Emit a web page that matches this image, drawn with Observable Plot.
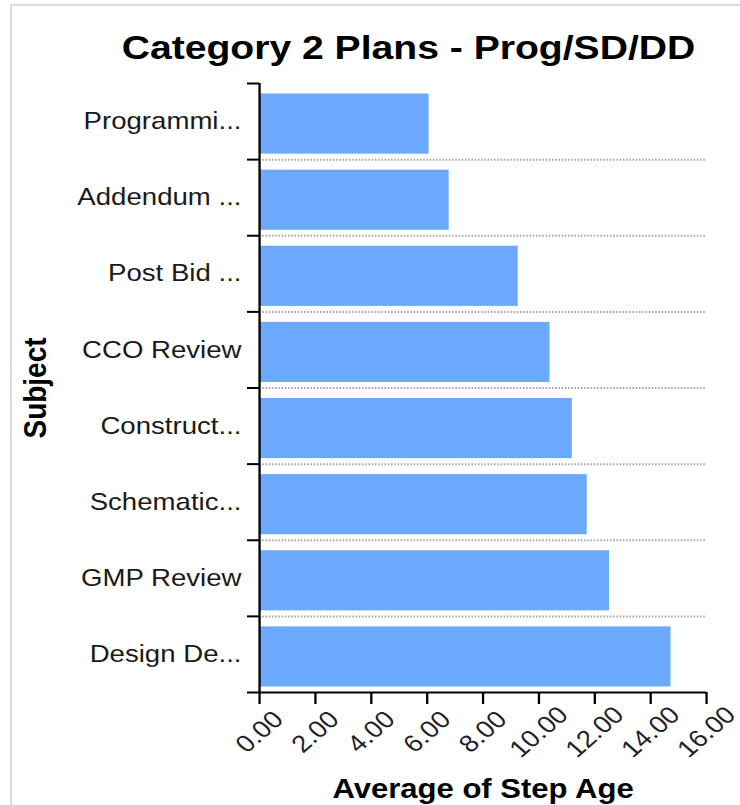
<!DOCTYPE html>
<html>
<head>
<meta charset="utf-8">
<script src="https://cdn.jsdelivr.net/npm/d3@7"></script>
<script src="https://cdn.jsdelivr.net/npm/@observablehq/plot@0.6"></script>
<style>
  html, body { margin: 0; padding: 0; background: #fff; }
  body { width: 740px; height: 805px; overflow: hidden; position: relative; font-family: "Liberation Sans", Arial, sans-serif; }
  #frame { position: absolute; left: 10px; top: 4px; width: 760px; height: 820px; border-left: 2px solid #d6dae2; border-top: 2px solid #d6dae2; }
  #wrap { position: absolute; left: 0; top: 0; width: 643.5px; transform: scaleX(1.15); transform-origin: 0 0; }
  #head { position: relative; height: 76px; }
  #title { position: absolute; left: 55.2px; width: 600px; top: 28.2px; line-height: 34px; text-align: center; font: bold 34px "Liberation Sans", Arial, sans-serif; color: #000; white-space: nowrap; }
  #chart svg { display: block; overflow: visible; }
</style>
</head>
<body>
<div id="frame"></div>
<div id="wrap">
  <div id="head"><div id="title">Category 2 Plans - Prog/SD/DD</div></div>
  <div id="chart"></div>
</div>
<script>
const subjects = ["Programmi...", "Addendum ...", "Post Bid ...", "CCO Review", "Construct...", "Schematic...", "GMP Review", "Design De..."];
const avgStepAge = [6.07, 6.79, 9.26, 10.40, 11.20, 11.73, 12.53, 14.73];
const xTicks = [0, 2, 4, 6, 8, 10, 12, 14, 16];
const xTitle = "Average of Step Age";
const yTitle = "Subject";

const rows = subjects.map((name, i) => ({name, value: avgStepAge[i], i}));
const n = subjects.length;
const boundaries = d3.range(n + 1);
const inner = d3.range(1, n);
const font = "Liberation Sans, Arial, sans-serif";

const chart = Plot.plot({
  width: 643.5,
  height: 729,
  marginLeft: 225.2,
  marginRight: 29.6,
  marginTop: 7,
  marginBottom: 113,
  style: {fontFamily: font, background: "transparent", overflow: "visible"},
  x: {domain: [0, 16], label: null},
  y: {domain: [n, 0], label: null},
  marks: [
    Plot.ruleY(inner, {stroke: "#a3a3a3", strokeWidth: 2, strokeDasharray: "1.3,1.5"}),
    Plot.rect(rows, {
      x1: 0, x2: "value",
      y1: d => d.i, y2: d => d.i + 1,
      insetTop: 10.5, insetBottom: 5.5,
      fill: "#6aa9fe"
    }),
    Plot.axisY(rows.map(d => d.i + 0.5), {
      tickSize: 0, tickPadding: 15.7,
      tickFormat: v => subjects[Math.floor(v)],
      fontSize: 24, fill: "#1a1a1a", label: null
    }),
    Plot.axisY(boundaries, {tickSize: 10.4, tickFormat: () => "", stroke: "#000", strokeWidth: 2, label: null}),
    Plot.axisX(xTicks, {tickSize: 12, tickFormat: () => "", stroke: "#000", strokeWidth: 2, label: null}),
    Plot.ruleX([0], {stroke: "#000", strokeWidth: 2}),
    Plot.ruleY([n], {stroke: "#000", strokeWidth: 2}),
    Plot.text(xTicks, {
      x: d => d, frameAnchor: "bottom", dy: 39.5,
      text: d => d.toFixed(2), rotate: -45,
      textAnchor: "middle", lineAnchor: "middle",
      fontSize: 24, fill: "#1f1f2a"
    }),
    Plot.text([xTitle], {
      frameAnchor: "bottom", dy: 105, text: d => d,
      textAnchor: "middle", lineAnchor: "bottom",
      fontSize: 27, fontWeight: "bold", fill: "#000"
    }),
    Plot.text([yTitle], {
      frameAnchor: "left", dx: -194.8, text: d => d, rotate: -90,
      textAnchor: "middle", lineAnchor: "middle",
      fontSize: 28, fontWeight: "bold", fill: "#000"
    })
  ]
});
document.getElementById("chart").appendChild(chart);
</script>
</body>
</html>
